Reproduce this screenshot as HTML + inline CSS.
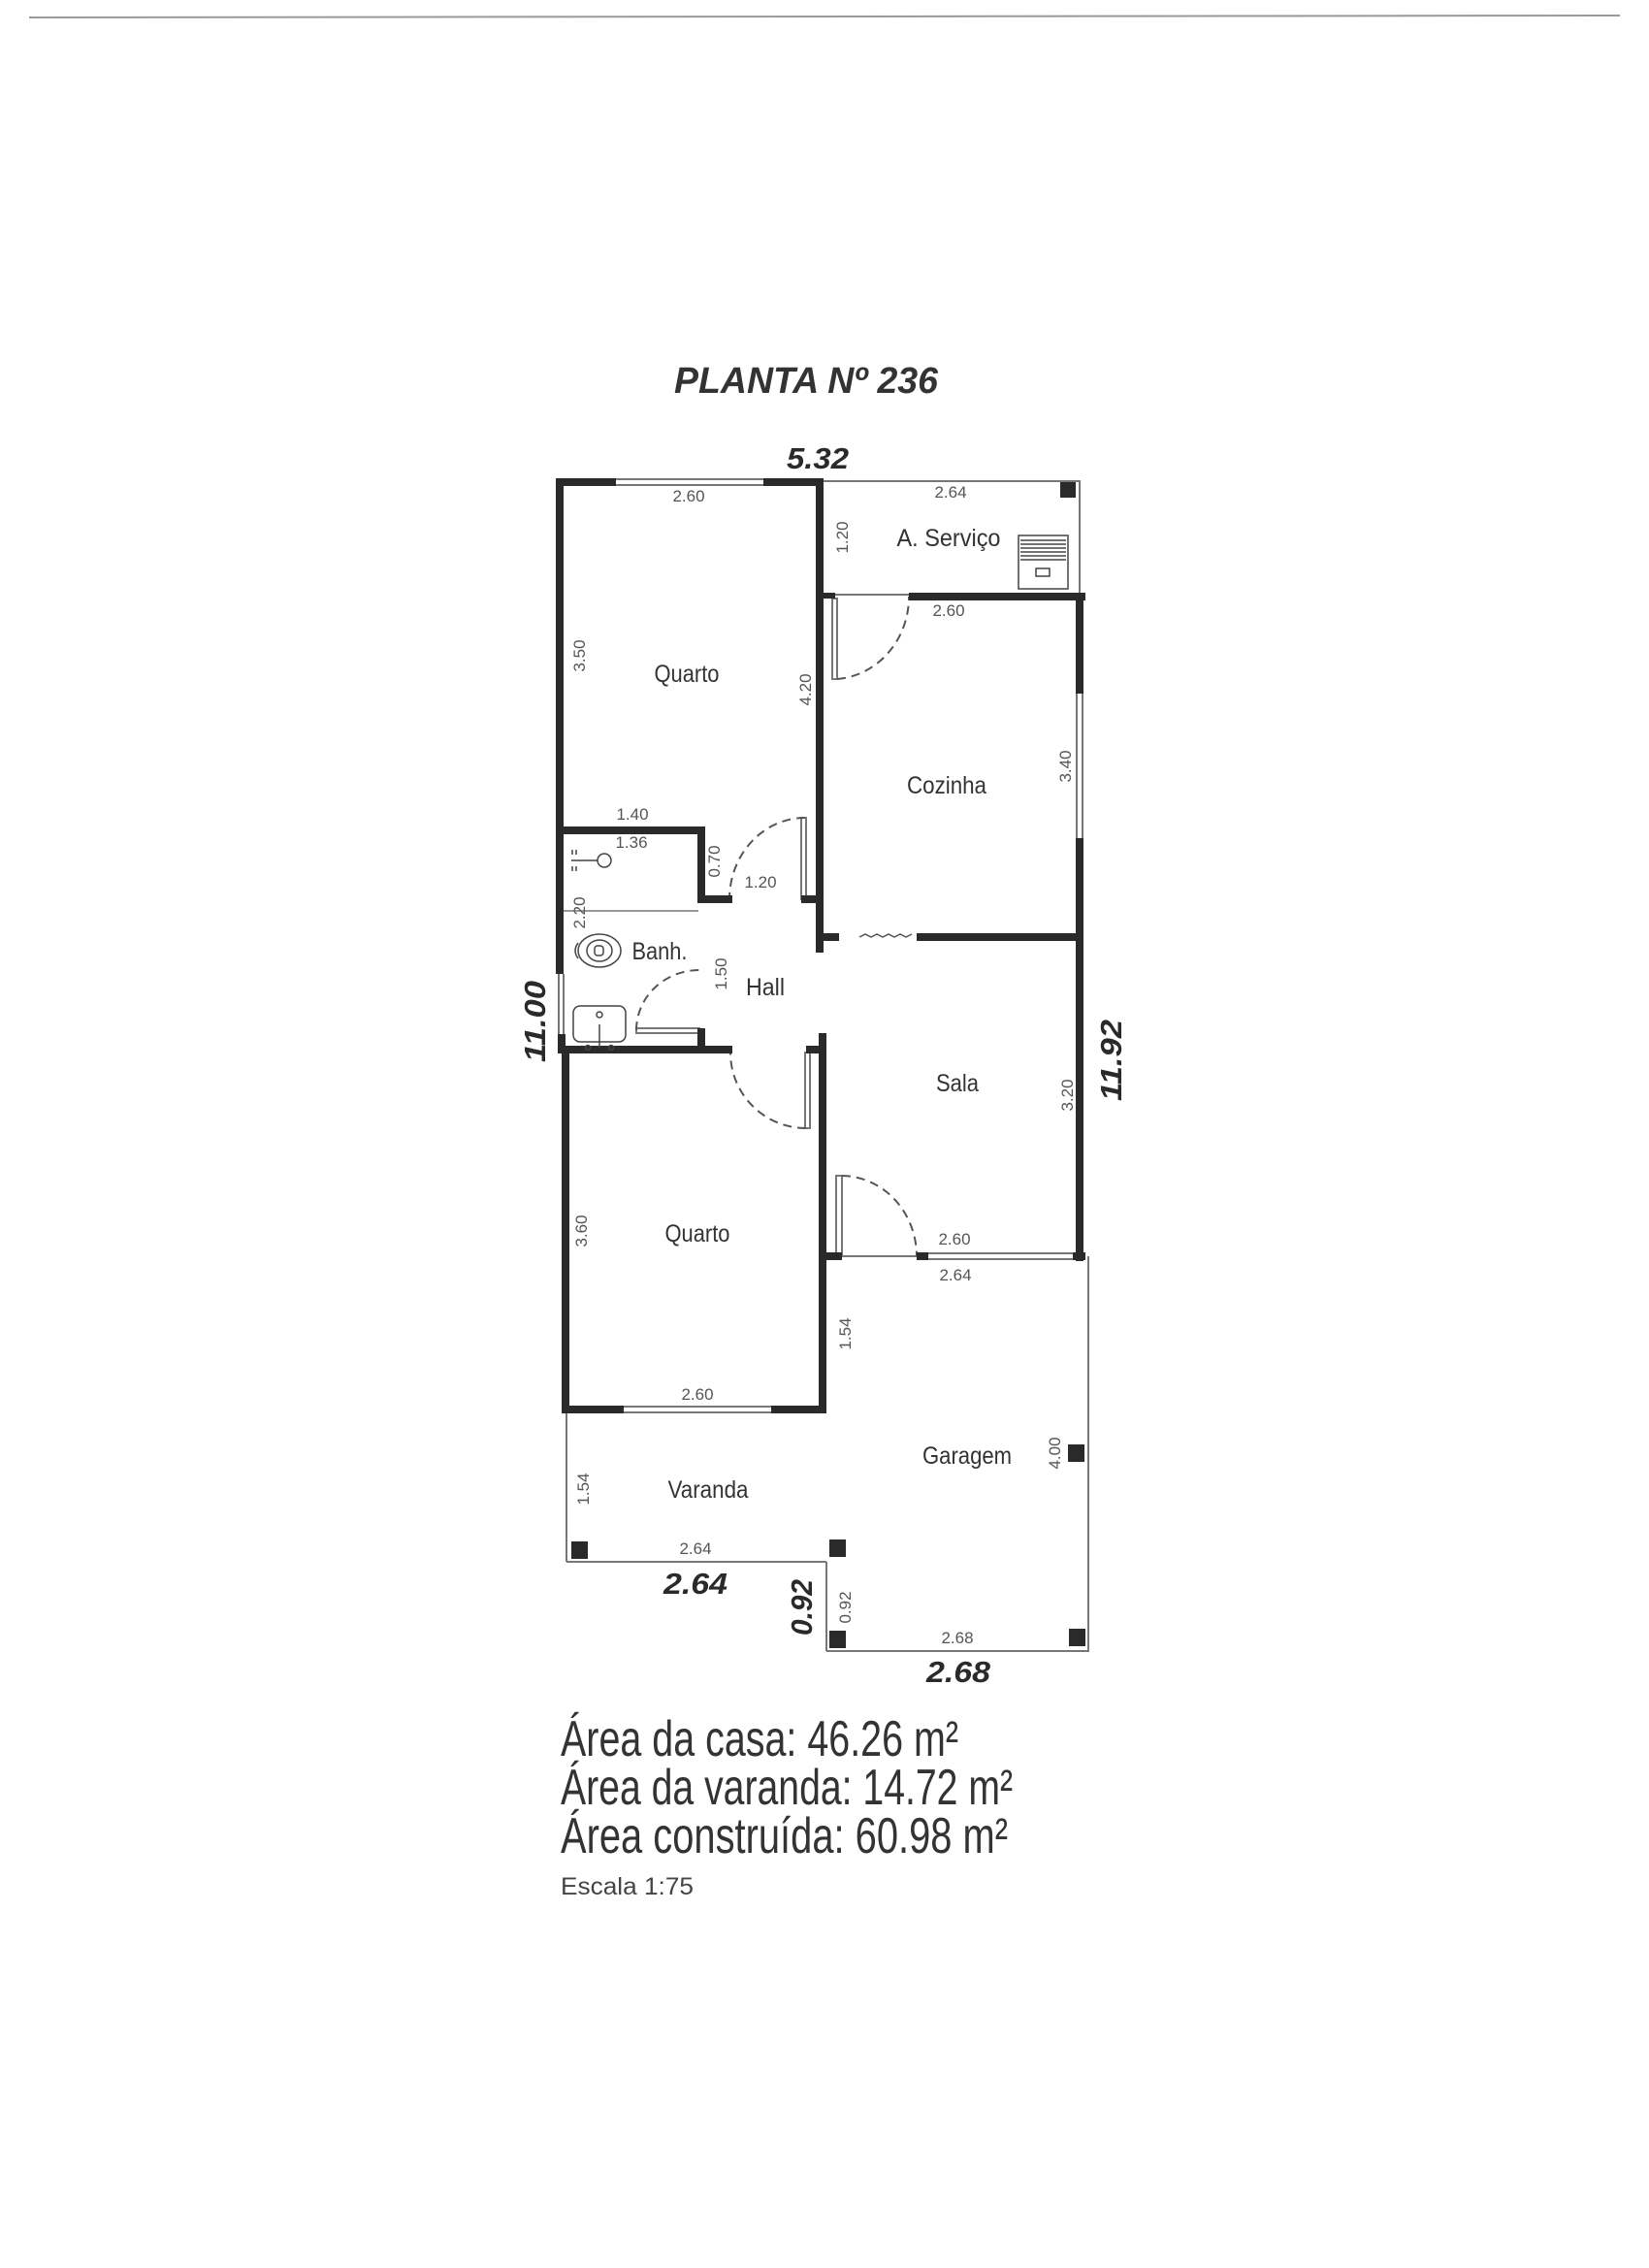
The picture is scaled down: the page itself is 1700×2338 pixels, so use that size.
<!DOCTYPE html>
<html><head><meta charset="utf-8"><style>
html,body{margin:0;padding:0;background:#fff;}
svg{display:block;}
text{font-family:"Liberation Sans",sans-serif;fill:#333;}
.d{font-size:17px;fill:#555;}
.l{font-size:25px;fill:#333;}
.b{font-weight:bold;font-style:italic;font-size:31px;fill:#2a2a2a;}
</style></head><body>
<svg width="1700" height="2338" viewBox="0 0 1700 2338" xmlns="http://www.w3.org/2000/svg">
<rect width="1700" height="2338" fill="#fff"/>
<line x1="30" y1="18" x2="1670" y2="16" stroke="#999" stroke-width="2"/>

<text x="831" y="405" text-anchor="middle" style="font-weight:bold;font-style:italic;font-size:38px;fill:#333" textLength="272" lengthAdjust="spacingAndGlyphs">PLANTA Nº 236</text>
<text x="843" y="483" text-anchor="middle" class="b" textLength="64" lengthAdjust="spacingAndGlyphs">5.32</text>

<g stroke="#777" stroke-width="2" fill="none">
 <line x1="849" y1="496" x2="1114" y2="496"/>
 <line x1="1113" y1="496" x2="1113" y2="615"/>
 <line x1="849" y1="613" x2="937" y2="613"/>
 <line x1="1122" y1="1295" x2="1122" y2="1702"/>
 <line x1="852" y1="1702" x2="1123" y2="1702"/>
 <line x1="852" y1="1610" x2="852" y2="1702"/>
 <line x1="584" y1="1453" x2="584" y2="1610"/>
 <line x1="584" y1="1610" x2="852" y2="1610"/>
 <line x1="850" y1="1295" x2="945" y2="1295"/>
 <line x1="635" y1="494" x2="787" y2="494"/><line x1="635" y1="500" x2="787" y2="500"/>
 <line x1="1110" y1="715" x2="1110" y2="864"/><line x1="1116" y1="715" x2="1116" y2="864"/>
 <line x1="576" y1="1004" x2="576" y2="1068"/><line x1="581" y1="1004" x2="581" y2="1068"/>
 <line x1="956" y1="1292" x2="1106" y2="1292"/><line x1="956" y1="1298" x2="1106" y2="1298"/>
 <line x1="643" y1="1450" x2="795" y2="1450"/><line x1="643" y1="1456" x2="795" y2="1456"/>
 <line x1="580" y1="939" x2="720" y2="939" stroke-width="1.5"/>
 <rect x="858" y="617" width="5" height="83"/>
 <rect x="826" y="843" width="5" height="84"/>
 <rect x="656" y="1060" width="65" height="5"/>
 <rect x="830" y="1085" width="5" height="78"/>
 <rect x="862" y="1212" width="6" height="83"/>
</g>
<g stroke="#555" stroke-width="2" fill="none" stroke-dasharray="9 6">
 <path d="M863 700 A80 85 0 0 0 937 615"/>
 <path d="M830 843 A78 84 0 0 0 752 927"/>
 <path d="M656 1062 A65 62 0 0 1 721 1000"/>
 <path d="M831 1163 A78 78 0 0 1 753 1085"/>
 <path d="M868 1212 A78 83 0 0 1 945 1295"/>
</g>
<path d="M886 966 l6 -3 l6 3 l6 -3 l6 3 l6 -3 l6 3 l6 -3 l6 3 l6 -3" stroke="#555" stroke-width="1.5" fill="none"/>

<g fill="#2a2a2a">
 <rect x="573" y="493" width="62" height="8"/>
 <rect x="787" y="493" width="62" height="8"/>
 <rect x="573" y="493" width="8" height="511"/>
 <rect x="575" y="1066" width="8" height="20"/>
 <rect x="841" y="493" width="8" height="489"/>
 <rect x="937" y="611" width="182" height="8"/>
 <rect x="849" y="611" width="12" height="6"/>
 <rect x="1109" y="611" width="8" height="104"/>
 <rect x="1109" y="864" width="8" height="436"/>
 <rect x="945" y="962" width="172" height="8"/>
 <rect x="845" y="962" width="20" height="8"/>
 <rect x="573" y="852" width="154" height="8"/>
 <rect x="719" y="852" width="8" height="79"/>
 <rect x="719" y="923" width="36" height="8"/>
 <rect x="826" y="923" width="20" height="8"/>
 <rect x="719" y="1060" width="8" height="26"/>
 <rect x="575" y="1078" width="180" height="8"/>
 <rect x="844" y="1065" width="8" height="392"/>
 <rect x="831" y="1078" width="17" height="8"/>
 <rect x="579" y="1078" width="8" height="379"/>
 <rect x="579" y="1449" width="64" height="8"/>
 <rect x="795" y="1449" width="57" height="8"/>
 <rect x="945" y="1291" width="12" height="8"/>
 <rect x="1106" y="1291" width="13" height="8"/>
 <rect x="844" y="1291" width="24" height="8"/>
 <rect x="1093" y="497" width="16" height="16"/>
 <rect x="589" y="1589" width="17" height="18"/>
 <rect x="855" y="1587" width="17" height="18"/>
 <rect x="1101" y="1489" width="17" height="18"/>
 <rect x="855" y="1681" width="17" height="18"/>
 <rect x="1102" y="1679" width="17" height="18"/>
</g>

<g stroke="#444" stroke-width="1.5" fill="none">
 <rect x="1050" y="552" width="51" height="55"/>
 <line x1="1052" y1="557" x2="1099" y2="557"/><line x1="1052" y1="561" x2="1099" y2="561"/>
 <line x1="1052" y1="565" x2="1099" y2="565"/><line x1="1052" y1="569" x2="1099" y2="569"/>
 <line x1="1052" y1="573" x2="1099" y2="573"/><line x1="1052" y1="577" x2="1099" y2="577"/>
 <rect x="1068" y="586" width="14" height="8"/>
 <circle cx="623" cy="887" r="7"/>
 <line x1="589" y1="887" x2="616" y2="887"/>
 <line x1="590" y1="876" x2="590" y2="881"/><line x1="594" y1="876" x2="594" y2="881"/>
 <line x1="590" y1="893" x2="590" y2="898"/><line x1="594" y1="893" x2="594" y2="898"/>
 <ellipse cx="618" cy="980" rx="22" ry="17"/>
 <ellipse cx="618" cy="980" rx="13" ry="11"/>
 <rect x="613" y="975" width="9" height="10" rx="3"/>
 <path d="M596 972 q-6 8 0 16"/>
 <rect x="591" y="1037" width="54" height="37" rx="7"/>
 <circle cx="618" cy="1046" r="3"/>
 <line x1="618" y1="1056" x2="618" y2="1080"/>
 <circle cx="606" cy="1080" r="2.5"/><circle cx="630" cy="1080" r="2.5"/>
</g>

<text class="d" x="710" y="517" text-anchor="middle">2.60</text>
<text class="d" x="980" y="513" text-anchor="middle">2.64</text>
<text class="d" x="978" y="635" text-anchor="middle">2.60</text>
<text class="d" x="652" y="845" text-anchor="middle">1.40</text>
<text class="d" x="651" y="874" text-anchor="middle">1.36</text>
<text class="d" x="784" y="915" text-anchor="middle">1.20</text>
<text class="d" x="984" y="1283" text-anchor="middle">2.60</text>
<text class="d" x="985" y="1320" text-anchor="middle">2.64</text>
<text class="d" x="719" y="1443" text-anchor="middle">2.60</text>
<text class="d" x="717" y="1602" text-anchor="middle">2.64</text>
<text class="d" x="987" y="1694" text-anchor="middle">2.68</text>
<g class="d">
 <text class="d" transform="translate(868,554) rotate(-90)" text-anchor="middle" dy="6">1.20</text>
 <text class="d" transform="translate(597,676) rotate(-90)" text-anchor="middle" dy="6">3.50</text>
 <text class="d" transform="translate(830,711) rotate(-90)" text-anchor="middle" dy="6">4.20</text>
 <text class="d" transform="translate(1098,790) rotate(-90)" text-anchor="middle" dy="6">3.40</text>
 <text class="d" transform="translate(736,888) rotate(-90)" text-anchor="middle" dy="6">0.70</text>
 <text class="d" transform="translate(597,941) rotate(-90)" text-anchor="middle" dy="6">2.20</text>
 <text class="d" transform="translate(743,1004) rotate(-90)" text-anchor="middle" dy="6">1.50</text>
 <text class="d" transform="translate(1100,1129) rotate(-90)" text-anchor="middle" dy="6">3.20</text>
 <text class="d" transform="translate(599,1269) rotate(-90)" text-anchor="middle" dy="6">3.60</text>
 <text class="d" transform="translate(871,1375) rotate(-90)" text-anchor="middle" dy="6">1.54</text>
 <text class="d" transform="translate(1087,1498) rotate(-90)" text-anchor="middle" dy="6">4.00</text>
 <text class="d" transform="translate(601,1535) rotate(-90)" text-anchor="middle" dy="6">1.54</text>
 <text class="d" transform="translate(871,1657) rotate(-90)" text-anchor="middle" dy="6">0.92</text>
</g>

<text class="l" x="978" y="563" text-anchor="middle" textLength="107" lengthAdjust="spacingAndGlyphs">A. Serviço</text>
<text class="l" x="708" y="703" text-anchor="middle" textLength="67" lengthAdjust="spacingAndGlyphs">Quarto</text>
<text class="l" x="976" y="818" text-anchor="middle" textLength="82" lengthAdjust="spacingAndGlyphs">Cozinha</text>
<text class="l" x="680" y="989" text-anchor="middle" textLength="57" lengthAdjust="spacingAndGlyphs">Banh.</text>
<text class="l" x="789" y="1026" text-anchor="middle" textLength="40" lengthAdjust="spacingAndGlyphs">Hall</text>
<text class="l" x="987" y="1125" text-anchor="middle" textLength="44" lengthAdjust="spacingAndGlyphs">Sala</text>
<text class="l" x="719" y="1280" text-anchor="middle" textLength="67" lengthAdjust="spacingAndGlyphs">Quarto</text>
<text class="l" x="997" y="1509" text-anchor="middle" textLength="92" lengthAdjust="spacingAndGlyphs">Garagem</text>
<text class="l" x="730" y="1544" text-anchor="middle" textLength="83" lengthAdjust="spacingAndGlyphs">Varanda</text>

<text class="b" x="717" y="1643" text-anchor="middle" textLength="66" lengthAdjust="spacingAndGlyphs">2.64</text>
<text class="b" x="988" y="1734" text-anchor="middle" textLength="66" lengthAdjust="spacingAndGlyphs">2.68</text>
<text class="b" transform="translate(837,1657) rotate(-90)" text-anchor="middle" textLength="58" lengthAdjust="spacingAndGlyphs">0.92</text>
<text class="b" transform="translate(562,1053) rotate(-90)" text-anchor="middle" textLength="84" lengthAdjust="spacingAndGlyphs">11.00</text>
<text class="b" transform="translate(1156,1093) rotate(-90)" text-anchor="middle" textLength="84" lengthAdjust="spacingAndGlyphs">11.92</text>

<text x="578" y="1810" textLength="410" lengthAdjust="spacingAndGlyphs" style="font-size:52px">Área da casa: 46.26 m²</text>
<text x="578" y="1860" textLength="466" lengthAdjust="spacingAndGlyphs" style="font-size:52px">Área da varanda: 14.72 m²</text>
<text x="578" y="1910" textLength="461" lengthAdjust="spacingAndGlyphs" style="font-size:52px">Área construída: 60.98 m²</text>
<text x="578" y="1953" textLength="137" lengthAdjust="spacingAndGlyphs" style="font-size:25px;fill:#444">Escala 1:75</text>
</svg>
</body></html>
